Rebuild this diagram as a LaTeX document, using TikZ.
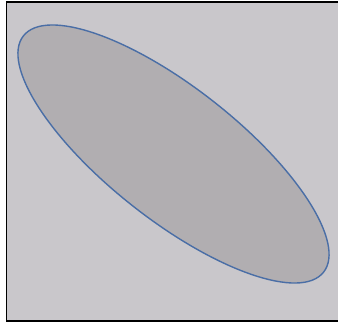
\documentclass[tikz,border=0pt]{standalone}
\definecolor{panelfill}{HTML}{C9C7CB}
\definecolor{ellfill}{HTML}{B1AEB1}
\definecolor{ellline}{HTML}{4A6EA6}
\tikzset{
  panel/.style={fill=panelfill, draw=black, line width=1.6pt},
  ellipseshape/.style={fill=ellfill, draw=ellline, line width=1.4pt}
}
\begin{document}
\begin{tikzpicture}[x=1pt,y=-1pt]
\useasboundingbox (0,0) rectangle (338,327);
\begin{scope}
\clip (0,0) rectangle (338,327);
\draw[panel] (6.5,1.8) rectangle (342,321);
\end{scope}
\draw[ellipseshape, rotate around={-38.2:(173.5,154)}] (173.5,154) ellipse [x radius=191, y radius=66];
\end{tikzpicture}
\end{document}
